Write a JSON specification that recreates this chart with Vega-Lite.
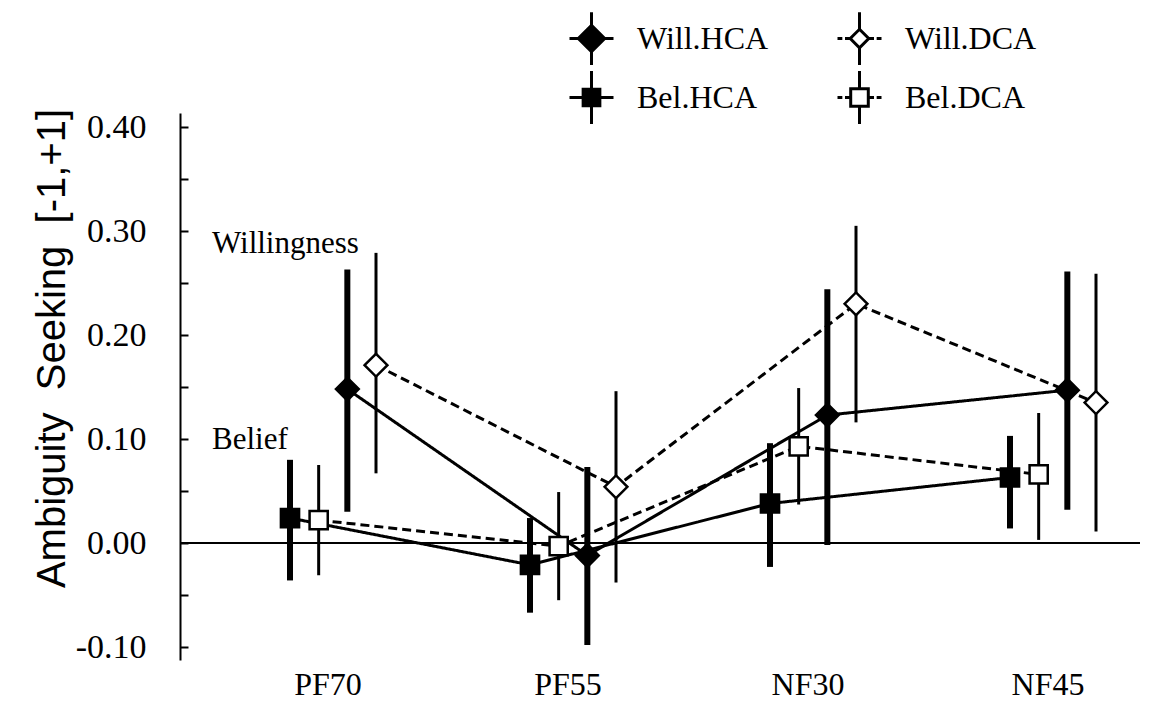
{
  "$schema": "https://vega.github.io/schema/vega-lite/v6.json",
  "autosize": {"type": "none"},
  "padding": {"left": 180, "top": 113, "right": 15, "bottom": 43},
  "width": 960,
  "height": 547,
  "background": "white",
  "config": {"view": {"stroke": null}},
  "datasets": {
    "main": [
      {"group": "PF70", "series": "Bel.HCA", "mean": 0.024, "lo": -0.036, "hi": 0.080},
      {"group": "PF70", "series": "Bel.DCA", "mean": 0.022, "lo": -0.031, "hi": 0.075},
      {"group": "PF70", "series": "Will.HCA", "mean": 0.148, "lo": 0.030, "hi": 0.263},
      {"group": "PF70", "series": "Will.DCA", "mean": 0.171, "lo": 0.067, "hi": 0.279},
      {"group": "PF55", "series": "Bel.HCA", "mean": -0.021, "lo": -0.067, "hi": 0.024},
      {"group": "PF55", "series": "Bel.DCA", "mean": -0.003, "lo": -0.055, "hi": 0.049},
      {"group": "PF55", "series": "Will.HCA", "mean": -0.012, "lo": -0.098, "hi": 0.073},
      {"group": "PF55", "series": "Will.DCA", "mean": 0.054, "lo": -0.038, "hi": 0.146},
      {"group": "NF30", "series": "Bel.HCA", "mean": 0.038, "lo": -0.023, "hi": 0.096},
      {"group": "NF30", "series": "Bel.DCA", "mean": 0.093, "lo": 0.037, "hi": 0.149},
      {"group": "NF30", "series": "Will.HCA", "mean": 0.123, "lo": -0.002, "hi": 0.244},
      {"group": "NF30", "series": "Will.DCA", "mean": 0.230, "lo": 0.116, "hi": 0.305},
      {"group": "NF45", "series": "Bel.HCA", "mean": 0.063, "lo": 0.014, "hi": 0.103},
      {"group": "NF45", "series": "Bel.DCA", "mean": 0.066, "lo": 0.003, "hi": 0.125},
      {"group": "NF45", "series": "Will.HCA", "mean": 0.147, "lo": 0.032, "hi": 0.261},
      {"group": "NF45", "series": "Will.DCA", "mean": 0.135, "lo": 0.011, "hi": 0.259}
    ],
    "notes": [
      {"group": "PF70", "label": "Willingness", "v": 0.288},
      {"group": "PF70", "label": "Belief", "v": 0.099}
    ],
    "zero": [{"v": 0}]
  },
  "encoding": {
    "x": {
      "field": "group",
      "type": "nominal",
      "sort": ["PF70", "PF55", "NF30", "NF45"],
      "scale": {"domain": ["PF70", "PF55", "NF30", "NF45"], "paddingInner": 0, "paddingOuter": 0},
      "axis": {
        "title": null,
        "domain": false,
        "ticks": false,
        "labelAngle": 0,
        "labelFont": "Liberation Serif",
        "labelFontSize": 32,
        "labelColor": "black",
        "labelPadding": 9,
        "labelOffset": 28
      }
    }
  },
  "layer": [
    {
      "data": {"name": "zero"},
      "mark": {"type": "rule", "color": "black", "strokeWidth": 2},
      "encoding": {
        "x": null,
        "y": {
          "field": "v",
          "type": "quantitative",
          "scale": {"domain": [-0.1125, 0.4135], "nice": false, "zero": false},
          "axis": {
            "title": "Ambiguity\u00a0\u00a0Seeking\u00a0\u00a0[-1,+1]",
            "titleFont": "Liberation Sans",
            "titleFontSize": 40,
            "titleFontWeight": "normal",
            "titleColor": "black",
            "titleAngle": -90,
            "titleX": -128,
            "titleY": 235,
            "titleAlign": "center",
            "titleBaseline": "middle",
            "grid": false,
            "values": [-0.1, -0.05, 0, 0.05, 0.1, 0.15, 0.2, 0.25, 0.3, 0.35, 0.4],
            "labelExpr": "abs(round(datum.value*100)) % 10 == 0 ? replace(format(datum.value, '.2f'), '\u2212', '-') : ''",
            "labelFont": "Liberation Serif",
            "labelFontSize": 34,
            "labelColor": "black",
            "labelPadding": 42,
            "tickSize": -8,
            "tickWidth": 2,
            "tickColor": "black",
            "domainColor": "black",
            "domainWidth": 2
          }
        }
      }
    },
    {
      "data": {"name": "notes"},
      "mark": {"type": "text", "align": "left", "baseline": "middle", "dx": -88, "font": "Liberation Serif", "fontSize": 31, "color": "black"},
      "encoding": {
        "y": {"field": "v", "type": "quantitative"},
        "text": {"field": "label"}
      }
    },
    {
      "data": {"name": "main"},
      "mark": {"type": "line", "color": "black", "strokeWidth": 3},
      "encoding": {
        "xOffset": {"field": "series", "type": "nominal", "scale": {"type": "point", "domain": ["Bel.HCA", "Bel.DCA", "Will.HCA", "Will.DCA"], "range": [110, 196], "padding": 0}},
        "y": {"field": "mean", "type": "quantitative"},
        "detail": {"field": "series"},
        "strokeDash": {
          "field": "series",
          "type": "nominal",
          "scale": {"domain": ["Bel.HCA", "Bel.DCA", "Will.HCA", "Will.DCA"], "range": [[1, 0], [9, 5], [1, 0], [9, 5]]},
          "legend": null
        }
      }
    },
    {
      "data": {"name": "main"},
      "mark": {"type": "rule", "color": "black"},
      "encoding": {
        "xOffset": {"field": "series", "type": "nominal"},
        "y": {"field": "lo", "type": "quantitative"},
        "y2": {"field": "hi"},
        "strokeWidth": {"condition": {"test": "indexof(datum.series, 'HCA') >= 0", "value": 6}, "value": 3}
      }
    },
    {
      "data": {"name": "main"},
      "mark": {"type": "point", "filled": true, "stroke": "black", "strokeWidth": 2.5, "opacity": 1},
      "encoding": {
        "xOffset": {"field": "series", "type": "nominal"},
        "y": {"field": "mean", "type": "quantitative"},
        "shape": {
          "field": "series",
          "type": "nominal",
          "scale": {"domain": ["Will.HCA", "Will.DCA", "Bel.HCA", "Bel.DCA"], "range": ["diamond", "diamond", "square", "square"]},
          "legend": null
        },
        "fill": {
          "field": "series",
          "type": "nominal",
          "scale": {"domain": ["Will.HCA", "Will.DCA", "Bel.HCA", "Bel.DCA"], "range": ["black", "white", "black", "white"]},
          "legend": null
        },
        "size": {"condition": {"test": "indexof(datum.series, 'Will') >= 0", "value": 520}, "value": 330}
      }
    },
    {
      "data": {"name": "main"},
      "mark": {"type": "point", "filled": true, "stroke": "black", "strokeWidth": 3, "size": 0, "opacity": 1},
      "encoding": {
        "xOffset": {"field": "series", "type": "nominal"},
        "y": {"field": "mean", "type": "quantitative"},
        "shape": {
          "field": "series",
          "type": "nominal",
          "scale": {
            "domain": ["Will.HCA", "Will.DCA", "Bel.HCA", "Bel.DCA"],
            "range": [
              "M-1,0L-0.55,0M0.55,0L1,0M0,-1.2L0,-0.55M0,0.55L0,1.2M0,-0.6L0.6,0L0,0.6L-0.6,0Z",
              "M-1,0L-0.78,0M-0.66,0L-0.44,0M0.44,0L0.66,0M0.78,0L1,0M0,-1.2L0,-0.42M0,0.42L0,1.2M0,-0.42L0.42,0L0,0.42L-0.42,0Z",
              "M-1,0L-0.38,0M0.38,0L1,0M0,-1.2L0,-0.38M0,0.38L0,1.2M-0.38,-0.38L0.38,-0.38L0.38,0.38L-0.38,0.38Z",
              "M-1,0L-0.78,0M-0.66,0L-0.4,0M0.4,0L0.66,0M0.78,0L1,0M0,-1.2L0,-0.4M0,0.4L0,1.2M-0.4,-0.4L0.4,-0.4L0.4,0.4L-0.4,0.4Z"
            ]
          },
          "legend": {
            "title": null,
            "orient": "none",
            "legendX": 388,
            "legendY": -98,
            "columns": 2,
            "direction": "horizontal",
            "symbolSize": 1936,
            "symbolStrokeWidth": 3,
            "symbolOpacity": 1,
            "labelFont": "Liberation Serif",
            "labelFontSize": 32,
            "labelColor": "black",
            "labelOffset": 22,
            "labelLimit": 300,
            "columnPadding": 62,
            "rowPadding": -6,
            "encode": {
              "symbols": {
                "stroke": {"value": "black"},
                "strokeWidth": {"value": 3},
                "opacity": {"value": 1}
              }
            }
          }
        },
        "fill": {
          "field": "series",
          "type": "nominal",
          "scale": {"domain": ["Will.HCA", "Will.DCA", "Bel.HCA", "Bel.DCA"], "range": ["black", "white", "black", "white"]},
          "legend": {
            "title": null,
            "orient": "none",
            "legendX": 388,
            "legendY": -98,
            "columns": 2,
            "direction": "horizontal",
            "symbolSize": 1936,
            "symbolStrokeWidth": 3,
            "symbolOpacity": 1,
            "labelFont": "Liberation Serif",
            "labelFontSize": 32,
            "labelColor": "black",
            "labelOffset": 22,
            "labelLimit": 300,
            "columnPadding": 62,
            "rowPadding": -6,
            "encode": {
              "symbols": {
                "stroke": {"value": "black"},
                "strokeWidth": {"value": 3},
                "opacity": {"value": 1}
              }
            }
          }
        }
      }
    }
  ],
  "resolve": {"scale": {"shape": "independent", "fill": "independent"}}
}
